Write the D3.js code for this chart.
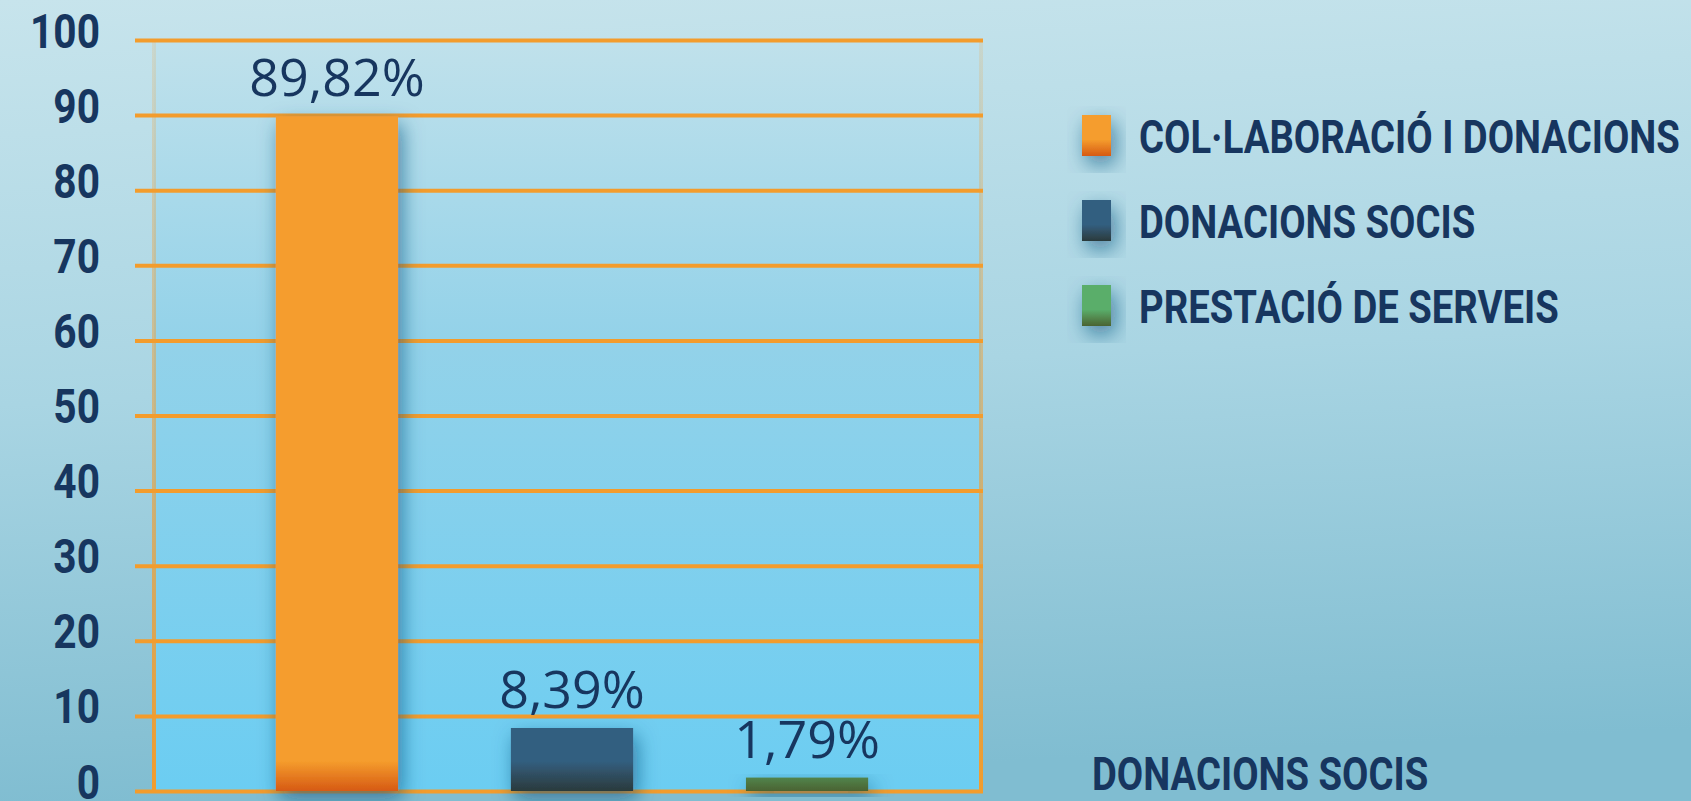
<!DOCTYPE html>
<html lang="ca">
<head>
    <meta charset="UTF-8">
    <title>Ingressos per origen</title>
    <script src="https://d3js.org/d3.v7.min.js"></script>
    <style>
        html, body {
            margin: 0;
            padding: 0;
            overflow: hidden;
        }
        .cond {
            font-family: "Roboto", "Liberation Sans", sans-serif;
            font-weight: bold;
            fill: #17365f;
        }
        .value-label {
            font-family: "Open Sans", "Noto Sans", sans-serif;
            font-size: 52px;
            fill: #17365f;
        }
    </style>
</head>
<body>
    <svg id="chart" width="1691" height="801"></svg>
    <script>
        // Data
        const categories = ["COL·LABORACIÓ I DONACIONS", "DONACIONS SOCIS", "PRESTACIÓ DE SERVEIS"];
        const values = [89.82, 8.39, 1.79];
        const valueLabels = ["89,82%", "8,39%", "1,79%"];
        const yTicks = [0, 10, 20, 30, 40, 50, 60, 70, 80, 90, 100];
        const barColors = ["#f59d2d", "#335f80", "#5aae6b"];
        const barBottoms = ["#d65a14", "#2b3a3c", "#4b6332"];
        const footLabel = "DONACIONS SOCIS";

        const W = 1691, H = 801;
        const plot = { left: 154, right: 981, top: 40, bottom: 792 };

        const svg = d3.select("#chart");
        const defs = svg.append("defs");

        // background gradients
        const bg = defs.append("linearGradient").attr("id", "bg")
            .attr("x1", 0).attr("y1", 0).attr("x2", 0.1).attr("y2", 1);
        bg.append("stop").attr("offset", 0).attr("stop-color", "#c7e4ec");
        bg.append("stop").attr("offset", 0.5).attr("stop-color", "#a9d5e3");
        bg.append("stop").attr("offset", 1).attr("stop-color", "#80bdd1");

        const pbg = defs.append("linearGradient").attr("id", "pbg")
            .attr("x1", 0).attr("y1", 0).attr("x2", 0).attr("y2", 1);
        pbg.append("stop").attr("offset", 0).attr("stop-color", "#c0e1eb");
        pbg.append("stop").attr("offset", 0.4).attr("stop-color", "#93d2e9");
        pbg.append("stop").attr("offset", 1).attr("stop-color", "#6bcdf2");

        const edge = defs.append("linearGradient").attr("id", "edge")
            .attr("gradientUnits", "userSpaceOnUse")
            .attr("x1", 0).attr("y1", plot.top).attr("x2", 0).attr("y2", plot.bottom);
        edge.append("stop").attr("offset", 0).attr("stop-color", "#f39c2c").attr("stop-opacity", 0.15);
        edge.append("stop").attr("offset", 0.6).attr("stop-color", "#f39c2c").attr("stop-opacity", 0.6);
        edge.append("stop").attr("offset", 1).attr("stop-color", "#f39c2c").attr("stop-opacity", 1);

        // shadow filter
        const shadow = defs.append("filter").attr("id", "shadow")
            .attr("x", "-50%").attr("y", "-20%").attr("width", "200%").attr("height", "160%");
        shadow.append("feDropShadow")
            .attr("dx", 4).attr("dy", 8).attr("stdDeviation", 10)
            .attr("flood-color", "#18557e").attr("flood-opacity", 0.65);

        svg.append("rect").attr("width", W).attr("height", H).attr("fill", "url(#bg)");
        svg.append("rect")
            .attr("x", plot.left).attr("y", plot.top)
            .attr("width", plot.right - plot.left).attr("height", plot.bottom - plot.top)
            .attr("fill", "url(#pbg)");

        // Scales
        const x = d3.scaleBand()
            .domain(categories)
            .range([163, 981])
            .padding(0.48);

        const y = d3.scaleLinear()
            .domain([0, 100])
            .range([791, 40]);

        // vertical edges of plot
        svg.selectAll(".edge")
            .data([plot.left, plot.right])
            .enter()
            .append("rect")
            .attr("x", d => d - 2)
            .attr("y", plot.top)
            .attr("width", 4)
            .attr("height", plot.bottom - plot.top)
            .attr("fill", "url(#edge)");

        // Y axis with gridlines
        const yAxis = svg.append("g")
            .attr("transform", "translate(983,0)")
            .call(d3.axisLeft(y).tickValues(yTicks).tickSize(848).tickPadding(35));
        yAxis.attr("font-family", null).attr("font-size", null);
        yAxis.select(".domain").remove();
        yAxis.selectAll(".tick line")
            .attr("stroke", "#f39c2c")
            .attr("stroke-width", 4);
        const tickText = yAxis.selectAll(".tick text")
            .attr("class", "cond")
            .attr("font-size", 48)
            .attr("fill", null)
            .attr("x", 0)
            .attr("dy", "7px");

        // condense bold texts (reference uses a condensed face)
        const sxTick = 70 / tickText.filter(d => d === 100).node().getComputedTextLength();
        tickText.attr("transform", `translate(${-848 - 35},0) scale(${sxTick},1)`);

        // bar gradients
        categories.forEach((c, i) => {
            const g = defs.append("linearGradient").attr("id", "bar" + i)
                .attr("gradientUnits", "userSpaceOnUse")
                .attr("x1", 0).attr("y1", y(0) - 30).attr("x2", 0).attr("y2", y(0));
            g.append("stop").attr("offset", 0).attr("stop-color", barColors[i]);
            g.append("stop").attr("offset", 1).attr("stop-color", barBottoms[i]);

            const lg = defs.append("linearGradient").attr("id", "leg" + i)
                .attr("x1", 0).attr("y1", 0).attr("x2", 0).attr("y2", 1);
            lg.append("stop").attr("offset", 0.6).attr("stop-color", barColors[i]);
            lg.append("stop").attr("offset", 1).attr("stop-color", barBottoms[i]);
        });

        // Bars
        svg.selectAll(".bar")
            .data(values)
            .enter()
            .append("rect")
            .attr("class", "bar")
            .attr("x", (d, i) => x(categories[i]))
            .attr("y", d => y(d))
            .attr("width", x.bandwidth())
            .attr("height", d => y(0) - y(d))
            .attr("fill", (d, i) => `url(#bar${i})`)
            .attr("filter", "url(#shadow)");

        // value labels
        svg.selectAll(".value-label")
            .data(values)
            .enter()
            .append("text")
            .attr("class", "value-label")
            .attr("x", (d, i) => x(categories[i]) + x.bandwidth() / 2)
            .attr("y", d => y(d) - 20)
            .attr("text-anchor", "middle")
            .text((d, i) => valueLabels[i]);

        // Legend
        const legend = svg.selectAll(".legend")
            .data(categories)
            .enter()
            .append("g")
            .attr("class", "legend")
            .attr("transform", (d, i) => `translate(1082,${115 + i * 85})`);

        legend.append("rect")
            .attr("width", 29)
            .attr("height", 41)
            .attr("fill", (d, i) => `url(#leg${i})`)
            .attr("filter", "url(#shadow)");

        const legText = legend.append("text")
            .attr("class", "cond")
            .attr("font-size", 46)
            .text(d => d);

        // footer label
        const foot = svg.append("text")
            .attr("class", "cond")
            .attr("font-size", 46)
            .text(footLabel);

        const sxLeg = 541 / legText.node().getComputedTextLength();
        legText.attr("transform", `translate(57,38) scale(${sxLeg},1)`);
        foot.attr("transform", `translate(1092,790) scale(${sxLeg},1)`);
    </script>
</body>
</html>
